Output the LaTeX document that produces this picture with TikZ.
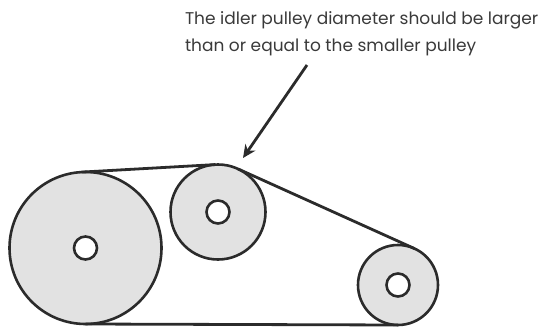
\documentclass[tikz,border=0pt]{standalone}
\usepackage{fontspec}
\setmainfont{Poppins}
\usetikzlibrary{arrows.meta}
\definecolor{ink}{HTML}{2B2B2B}
\definecolor{wheel}{HTML}{E2E2E2}
\definecolor{txt}{HTML}{3A3A3A}
\tikzset{
  pulley/.style={circle,draw=ink,fill=wheel,line width=2.6pt,inner sep=0pt,outer sep=0pt},
  hub/.style={circle,draw=ink,fill=white,line width=2.6pt,inner sep=0pt,outer sep=0pt,minimum size=23pt},
  belt/.style={draw=ink,line width=2.8pt},
  pointer/.style={draw=ink,line width=2.8pt,-{Stealth[length=13pt,width=12pt]}},
  note/.style={text=txt,font=\fontsize{17pt}{26pt}\selectfont,anchor=base west,inner sep=0pt,outer sep=0pt}
}
\begin{document}
\begin{tikzpicture}[x=1pt,y=-1pt]
\useasboundingbox (0,0) rectangle (544,327);
\node[pulley,minimum size=152pt] (big) at (85.5,248) {};
\node[pulley,minimum size=95pt] (idler) at (218,212) {};
\node[pulley,minimum size=80pt] (small) at (398,285) {};
\node[hub] (bighub) at (big.center) {};
\node[hub] (idlerhub) at (idler.center) {};
\node[hub] (smallhub) at (small.center) {};
\draw[belt] (big.93.4) -- (idler.93.4);
\draw[belt] (idler.65.6) -- (small.65.6);
\draw[belt] (big.-90.2) -- (small.-90.2);
\node[note] (line1) at (185,24) {The idler pulley diameter should be larger};
\node[note] (line2) at (185,51) {than or equal to the smaller pulley};
\coordinate (from) at (307,65);
\coordinate (to) at (243,158);
\draw[pointer] (from) -- (to);
\end{tikzpicture}
\end{document}
